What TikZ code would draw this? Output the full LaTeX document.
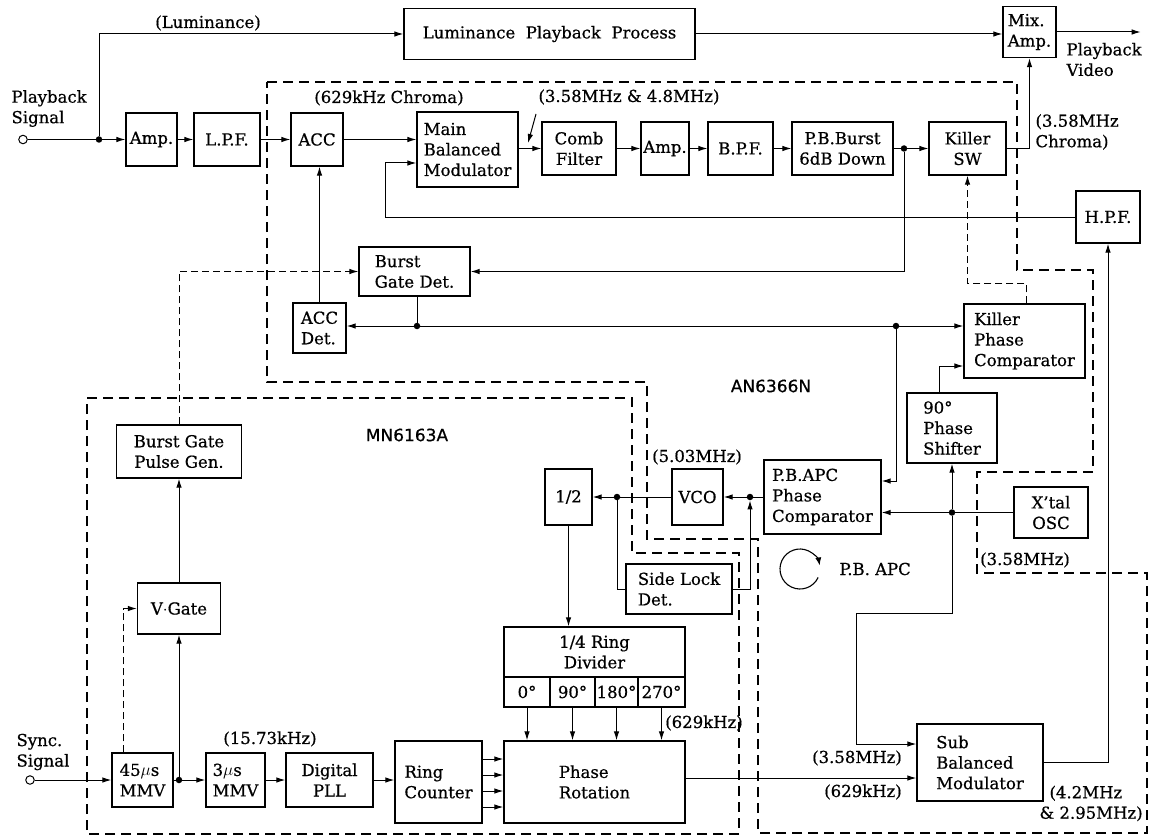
\documentclass[tikz,border=0pt]{standalone}
\usepackage{fontspec}
\setmainfont{DejaVu Serif}[FakeBold=0.6]
\newfontfamily\chipfont{DejaVu Sans}[FakeBold=0.6]
\usetikzlibrary{arrows.meta}
\begin{document}
\begin{tikzpicture}[x=1pt,y=-1pt,
  font=\fontsize{16.5}{20.5}\selectfont,
  blk/.style={draw, line width=1.3pt, inner sep=1pt, align=center},
  box/.style 2 args={blk, minimum width=#1pt, minimum height=#2pt},
  wire/.style={line width=1pt},
  arr/.style={wire, -{Latex[length=9pt,width=5.5pt]}},
  chip/.style={line width=1.4pt, dash pattern=on 10pt off 6pt},
  dwire/.style={line width=1pt, dash pattern=on 7pt off 4pt},
  darr/.style={dwire, -{Latex[length=9pt,width=5.5pt]}},
  jdot/.style={circle, fill, inner sep=0pt, minimum size=6.5pt},
  term/.style={circle, draw, line width=1pt, inner sep=0pt, minimum size=8.5pt, fill=white},
  chiplbl/.style={font=\chipfont\fontsize{17}{20}\selectfont},
]
\fill[white] (0,0) rectangle (1150,837);
\useasboundingbox (0,0) rectangle (1150,837);

% chip boundaries
\draw[chip] (267,82) -- (1017,82) -- (1017,270) -- (1093,270) -- (1093,472) -- (977,472) -- (977,573) -- (1147,573) -- (1147,833) -- (758,833) -- (758,539) -- (647,539) -- (647,382) -- (267,382) -- cycle;
\draw[chip] (87,398) -- (632,398) -- (632,553) -- (739,553) -- (739,834) -- (87,834) -- cycle;

% blocks
\node[box={51}{53}] (amp1) at (151.5,139.5) {Amp.};
\node[box={66}{53}] (lpf) at (227,139.5) {L.P.F.};
\node[box={52}{53}] (acc) at (317,139.5) {ACC};
\node[box={101}{75}, align=left] (mbm) at (467.5,149.5) {Main\\Balanced\\Modulator};
\node[box={74}{53}] (comb) at (579,148.5) {Comb\\Filter};
\node[box={48}{53}] (amp2) at (665,148.5) {Amp.};
\node[box={65}{53}] (bpf) at (740.5,148.5) {B.P.F.};
\node[box={101}{53}] (pbb) at (842.5,148.5) {P.B.Burst\\6dB Down};
\node[box={77}{53}] (ksw) at (967.5,148.5) {Killer\\SW};
\node[box={291}{51}] (lpp) at (549.5,34) {Luminance\ \ Playback\ \ Process};
\node[box={53}{51}, align=left] (mix) at (1029.5,32) {Mix.\\Amp.};
\node[box={64}{52}] (hpf) at (1108,217) {H.P.F.};
\node[box={111}{49}, align=left] (bgd) at (414.5,271.5) {Burst\\Gate Det.};
\node[box={53}{50}, align=left] (accdet) at (319.5,328) {ACC\\Det.};
\node[box={121}{74}, align=left] (kpc) at (1024.5,341) {Killer\\Phase\\Comparator};
\node[box={90}{70}, align=left] (ps90) at (952,428) {90°\\Phase\\Shifter};
\node[box={117}{74}, align=left] (apc) at (822.5,497) {P.B.APC\\Phase\\Comparator};
\node[box={74}{51}] (xtal) at (1051,512.5) {X’tal\\OSC};
\node[box={51}{56}] (vco) at (697.5,497) {VCO};
\node[box={47}{56}] (half) at (568.5,497) {1/2};
\node[box={106}{50}, align=left] (sld) at (679,589) {Side Lock\\Det.};
\node[box={125}{53}] (bgpg) at (179,451.5) {Burst Gate\\Pulse Gen.};
\node[box={83}{51}] (vgate) at (179,608.5) {V$\cdot$Gate};
\node[box={61}{54}, align=left] (mmv45) at (142.5,780) {45$\mu$s\\MMV};
\node[box={59}{54}, align=left] (mmv3) at (235.5,780) {3$\mu$s\\MMV};
\node[box={87}{54}] (dpll) at (329.5,780) {Digital\\PLL};
\node[box={87}{82}, align=left] (ringc) at (438.5,782) {Ring\\Counter};
\node[box={181}{82}, align=left] (prot) at (594.5,782) {Phase\\Rotation};
\node[box={181}{50}] (rdiv) at (594.5,652) {1/4 Ring\\Divider};
\node[box={46}{30}] (c0) at (527,692) {0°};
\node[box={45}{30}] (c90) at (572.5,692) {90°};
\node[box={43}{30}] (c180) at (616.5,692) {180°};
\node[box={47}{30}] (c270) at (661.5,692) {270°};
\node[box={126}{77}, align=left] (sbm) at (980,762.5) {Sub\\Balanced\\Modulator};

% terminals and junctions
\node[term] (pbin) at (23,139.5) {};
\node[term] (syin) at (30,780) {};
\node[jdot] (j1) at (99,139.5) {};
\node[jdot] (j2) at (904,148.5) {};
\node[jdot] (j3) at (417,326) {};
\node[jdot] (j4) at (896,326) {};
\node[jdot] (j5) at (952,512.5) {};
\node[jdot] (j6) at (617,497) {};
\node[jdot] (j7) at (750,497) {};
\node[jdot] (j8) at (179,780) {};
\coordinate (pro) at ([yshift=4pt]prot.east);

% playback chain
\draw[wire] (pbin) -- (j1);
\draw[arr] (j1) -- (amp1);
\draw[arr] (j1) |- (lpp.west);
\draw[arr] (lpp.east) -- (lpp.east -| mix.west);
\draw[arr] (mix.east) -- ++(84,0);
\draw[arr] (amp1) -- (lpf);
\draw[arr] (lpf) -- (acc);
\draw[arr] (acc.east) -- (acc.east -| mbm.west);
\draw[arr] (mbm.east |- comb.west) -- (comb.west);
\draw[arr] (comb) -- (amp2);
\draw[arr] (amp2) -- (bpf);
\draw[arr] (bpf) -- (pbb);
\draw[wire] (pbb) -- (j2);
\draw[arr] (j2) -- (ksw);
\draw[arr] (j2) |- (bgd.east);
\draw[arr] (ksw.east) -| (mix.south);
\draw[arr] (hpf.west) -| (385,163) -- ([yshift=-13.5pt]mbm.west);
\draw[arr] (536,114) -- (528,143);

% ACC loop
\draw[arr] (accdet.north) -- (accdet.north |- acc.south);
\draw[wire] (j3 |- bgd.south) -- (j3);
\draw[arr] (j3) -- (j3 -| accdet.east);
\draw[wire] (j3) -- (j4);
\draw[arr] (j4) -- (j4 -| kpc.west);
\draw[arr] (j4) |- ([yshift=16pt]apc.east);
\draw[darr] ([xshift=1.5pt]kpc.north) -- (1026,283) -| (ksw.south);
\draw[arr] ([xshift=-13pt]ps90.north) |- ([yshift=-25pt]kpc.west);

% oscillator
\draw[wire] (xtal) -- (j5);
\draw[arr] (j5) -- (j5 -| apc.east);
\draw[arr] (j5) -- (ps90.south);
\draw[arr] (j5) -- (952,613) -| (856,744) -- ([yshift=18.5pt]sbm.west);
\draw[arr] (pro) -- (pro -| sbm.west);
\draw[arr] (sbm.east) -| (hpf.south);

% VCO loop
\draw[wire] (apc.west) -- (j7);
\draw[arr] (j7) -- (vco.east);
\draw[wire] (vco.west) -- (j6);
\draw[arr] (j6) -- (half.east);
\draw[wire] (j6) |- (sld.west);
\draw[arr] (sld.east) -| (j7.south);
\draw[arr] (half.south) -- (half.south |- rdiv.north);
\foreach \c in {c0,c90,c180,c270} \draw[arr] (\c.south) -- (\c.south |- prot.north);
\foreach \y in {759,775,791,807} \draw[arr] (ringc.east |- 0,\y) -- (prot.west |- 0,\y);

% sync chain
\draw[arr] (syin) -- (mmv45);
\draw[wire] (mmv45) -- (j8);
\draw[arr] (j8) -- (mmv3);
\draw[arr] (j8) -- (vgate.south);
\draw[arr] (vgate.north) -- (bgpg.south);
\draw[arr] (mmv3) -- (dpll);
\draw[arr] (dpll.east) -- (dpll.east -| ringc.west);
\draw[darr] ([xshift=-19.5pt]mmv45.north) |- (vgate.west);
\draw[darr] (bgpg.north) |- (bgd.west);

% loop symbol
\draw[line width=1.1pt, -{Latex[length=8pt,width=6pt]}] (800,569) ++(25:20) arc[start angle=25, end angle=350, radius=20];

% labels
\node (tlum) at (208,23) {(Luminance)};
\node[align=left, anchor=west] (tpbs) at (8,108.5) {Playback\\Signal};
\node (t629c) at (389,98) {(629kHz Chroma)};
\node (t358a) at (629,97) {(3.58MHz \& 4.8MHz)};
\node[align=left, anchor=west] (t358c) at (1032,132) {(3.58MHz\\Chroma)};
\node[align=left, anchor=west] (tpbv) at (1063,59.5) {Playback\\Video};
\node[chiplbl] (tan) at (771,386) {AN6366N};
\node[chiplbl] (tmn) at (407,435) {MN6163A};
\node (t503) at (697,457) {(5.03MHz)};
\node[anchor=west] (tapc) at (836,569) {P.B.\ APC};
\node (t358u) at (1025,560) {(3.58MHz)};
\node (t1573) at (270,739) {(15.73kHz)};
\node (t629a) at (704,723) {(629kHz)};
\node (t358l) at (857,758) {(3.58MHz)};
\node (t629b) at (863,792) {(629kHz)};
\node[anchor=west, align=left] (t42) at (1036,803.5) {\hspace*{10pt}(4.2MHz\\\& 2.95MHz)};
\node[anchor=west, align=left] (tsync) at (13,752) {Sync.\\Signal};
\end{tikzpicture}
\end{document}
